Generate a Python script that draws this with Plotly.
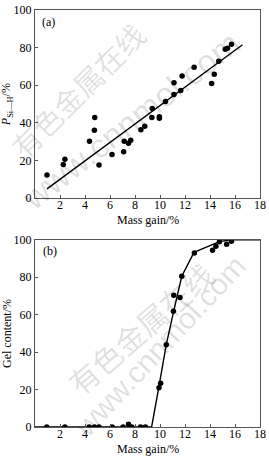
import plotly.graph_objects as go

# ---- Panel (a): P_Si-H vs mass gain ----
a_mass = [0.96, 2.26, 2.39, 4.36, 4.75, 4.78, 5.12, 6.16, 7.09, 7.14, 7.48, 7.66,
          8.47, 8.78, 9.35, 9.38, 9.95, 9.95, 10.44, 11.12, 11.12, 11.66, 11.77,
          12.73, 14.13, 14.34, 14.70, 15.22, 15.40, 15.72]
a_psih = [12.2, 17.8, 20.6, 30.2, 36.1, 42.9, 17.6, 23.2, 24.6, 30.2, 29.1, 30.7,
          36.3, 38.2, 42.9, 47.6, 43.2, 42.4, 51.3, 55.1, 61.3, 57.2, 64.9,
          69.6, 60.9, 65.8, 72.8, 79.1, 79.7, 81.8]
a_fit_x = [0.96, 16.6]
a_fit_y = [4.9, 81.5]

# ---- Panel (b): gel content vs mass gain ----
b_mass = [0.94, 2.39, 4.34, 4.75, 5.12, 6.18, 7.04, 7.48, 7.74, 8.44, 8.83,
          9.92, 10.05, 10.50, 11.07, 11.10, 11.60, 11.74, 12.75, 14.20, 14.47,
          14.75, 15.33, 15.72]
b_gel = [0, 0, 0, 0, 0, 0, 0, 1.5, 0, 0, 0,
         21.0, 23.4, 43.9, 61.8, 70.4, 69.2, 80.5, 93.0, 94.4, 96.5,
         99.0, 97.6, 99.2]
b_line_x = [0, 9.33, 9.9, 10.5, 11.1, 11.74, 12.72, 14.75, 15.7, 18]
b_line_y = [0, 0, 21, 44, 62, 80.5, 93.3, 99, 100, 100]

x_ticks = [2, 4, 6, 8, 10, 12, 14, 16, 18]
y_ticks = [0, 20, 40, 60, 80, 100]

FONT = "Liberation Serif"
W, H = 269, 457
ML, MR, MT, MB = 35, 3, 3, 30
PW, PH = W - ML - MR, H - MT - MB

def px(x):
    return (x - ML) / PW

def py(y):
    return (H - MB - y) / PH

fig = go.Figure()
mk = dict(color="black", size=5.5)
fig.add_trace(go.Scatter(x=a_mass, y=a_psih, mode="markers", marker=mk,
                         xaxis="x", yaxis="y", showlegend=False))
fig.add_trace(go.Scatter(x=a_fit_x, y=a_fit_y, mode="lines",
                         line=dict(color="black", width=1.4),
                         xaxis="x", yaxis="y", showlegend=False))
fig.add_trace(go.Scatter(x=b_mass, y=b_gel, mode="markers", marker=mk,
                         xaxis="x2", yaxis="y2", showlegend=False))
fig.add_trace(go.Scatter(x=b_line_x, y=b_line_y, mode="lines",
                         line=dict(color="black", width=1.4),
                         xaxis="x2", yaxis="y2", showlegend=False))

ax_common = dict(showgrid=False, zeroline=False, showline=True, mirror=True,
                 linecolor="#555", linewidth=1, ticks="inside", ticklen=3,
                 tickcolor="#555", ticklabeloverflow="allow",
                 tickfont=dict(family=FONT, size=12, color="black"))
x_extra = dict(ticklabelstandoff=-4)

fig.update_layout(
    width=W, height=H, margin=dict(l=ML, r=MR, t=MT, b=MB),
    paper_bgcolor="white", plot_bgcolor="white",
    font=dict(family=FONT, size=12, color="black"),
    xaxis=dict(domain=[0, 1], range=[0, 18], tickvals=x_ticks, anchor="y", **ax_common, **x_extra),
    yaxis=dict(domain=[0.549, 1.0], range=[0, 100], tickvals=y_ticks, anchor="x", **ax_common),
    xaxis2=dict(domain=[0, 1], range=[0, 18], tickvals=x_ticks, anchor="y2", **ax_common, **x_extra),
    yaxis2=dict(domain=[0.0, 0.449], range=[0, 100], tickvals=y_ticks, anchor="x2", **ax_common),
)

ann = []
# axis titles
ann.append(dict(text="Mass gain/%", x=0.5, y=py(217), xref="paper", yref="paper",
                showarrow=False, xanchor="center", yanchor="middle",
                font=dict(family=FONT, size=12)))
ann.append(dict(text="Mass gain/%", x=0.5, y=py(449), xref="paper", yref="paper",
                showarrow=False, xanchor="center", yanchor="middle",
                font=dict(family=FONT, size=12)))
ann.append(dict(text="<i>P</i><sub>Si—H</sub>/%", x=px(7), y=py(99), xref="paper",
                yref="paper", showarrow=False, textangle=-90, xanchor="center",
                yanchor="middle", font=dict(family=FONT, size=12)))
ann.append(dict(text="Gel content/%", x=px(7), y=py(331.7), xref="paper",
                yref="paper", showarrow=False, textangle=-90, xanchor="center",
                yanchor="middle", font=dict(family=FONT, size=12)))
# panel labels
ann.append(dict(text="(a)", x=px(40), y=py(15), xref="paper", yref="paper",
                showarrow=False, xanchor="left", yanchor="middle",
                font=dict(family=FONT, size=12)))
ann.append(dict(text="(b)", x=px(41), y=py(248), xref="paper", yref="paper",
                showarrow=False, xanchor="left", yanchor="middle",
                font=dict(family=FONT, size=12)))
# watermarks
wm = "rgba(0,0,0,0.12)"
for txt, cx, cy, ang, sz, fam in [
    ("有色金属在线", 78, 84, -45, 29, "Noto Sans CJK SC"),
    ("www.cnnmol.com", 134, 115, -38, 34, "Liberation Sans"),
    ("有色金属在线", 143, 326, -41, 30, "Noto Sans CJK SC"),
    ("www.cnnmol.com", 163, 345, -47, 30, "Liberation Sans"),
]:
    ann.append(dict(text=txt, x=px(cx), y=py(cy), xref="paper", yref="paper",
                    showarrow=False, textangle=ang, xanchor="center", yanchor="middle",
                    font=dict(family=fam, size=sz, color=wm)))

fig.update_layout(annotations=ann)
fig.write_html("out.html")
